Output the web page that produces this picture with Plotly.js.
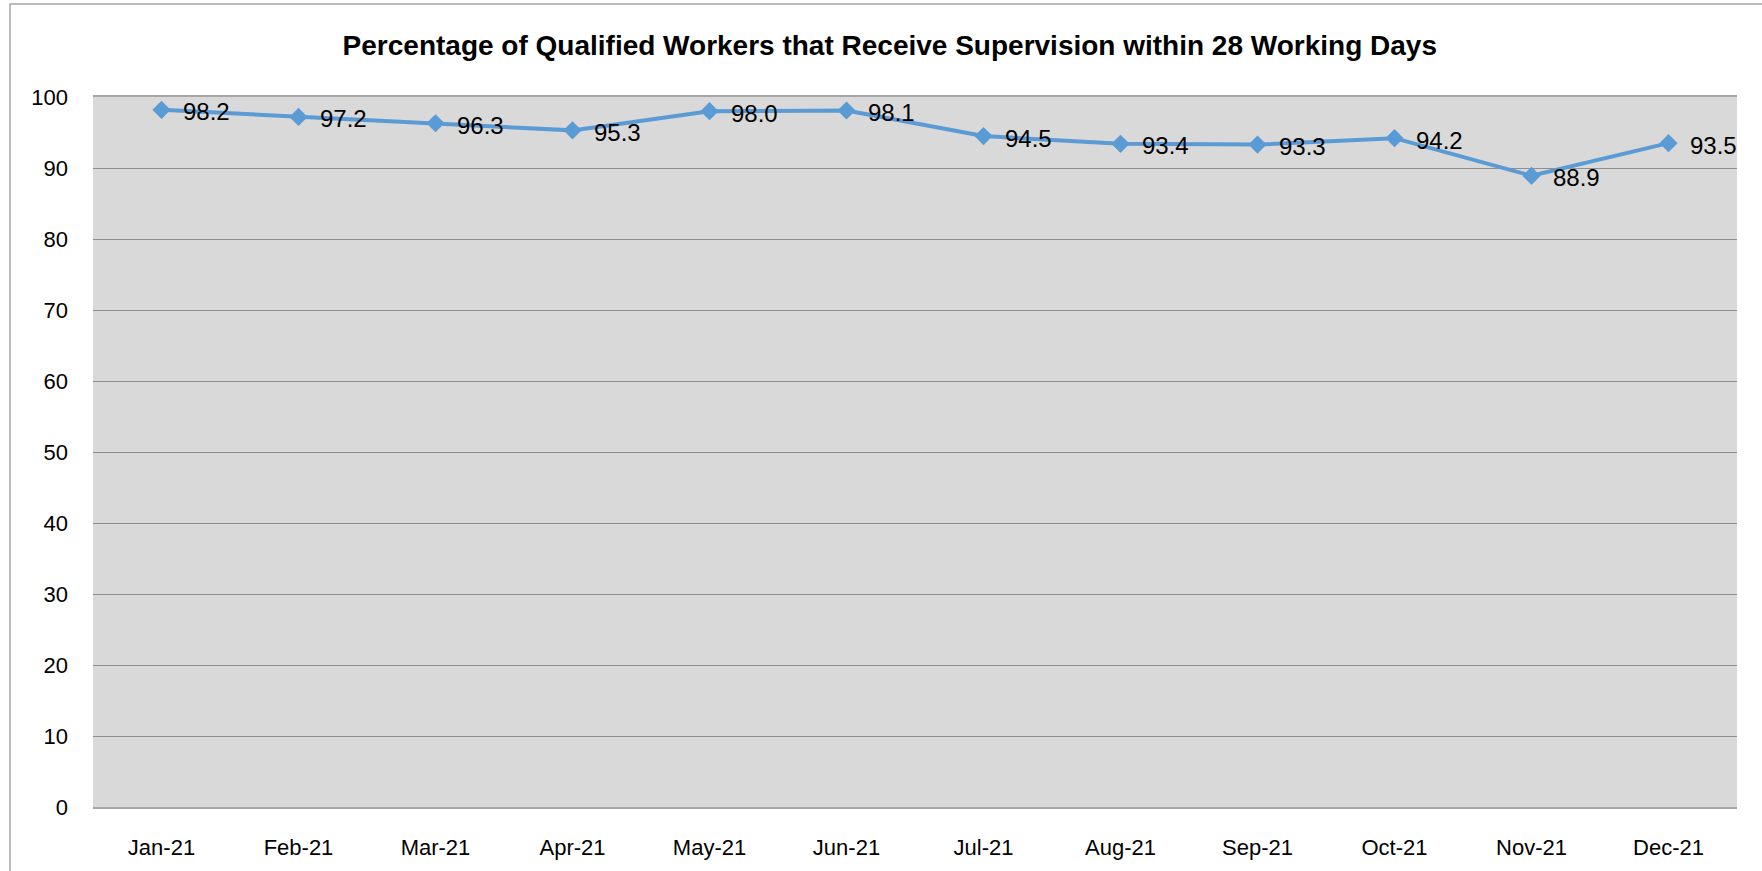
<!DOCTYPE html>
<html>
<head>
<meta charset="utf-8">
<script src="https://cdn.plot.ly/plotly-3.0.1.min.js"></script>
<style>html,body{margin:0;padding:0;background:#fff;}#chart{width:1762px;height:871px;}</style>
</head>
<body>
<div id="chart"></div>
<script>
const months = ["Jan-21","Feb-21","Mar-21","Apr-21","May-21","Jun-21","Jul-21","Aug-21","Sep-21","Oct-21","Nov-21","Dec-21"];
const percentages = [98.2, 97.2, 96.3, 95.3, 98.0, 98.1, 94.5, 93.4, 93.3, 94.2, 88.9, 93.5];
const yTicks = [0,10,20,30,40,50,60,70,80,90,100];
const chartTitle = "Percentage of Qualified Workers that Receive Supervision within 28 Working Days";

const FONT = 'Liberation Sans, Arial, sans-serif';

const trace = {
  x: months,
  y: percentages,
  type: 'scatter',
  mode: 'lines+markers',
  line: {color: '#5B9BD5', width: 4},
  marker: {symbol: 'diamond', size: 14, color: '#5B9BD5'},
  cliponaxis: false,
  hoverinfo: 'x+y'
};

const labels = months.map((m, i) => ({
  x: m, y: percentages[i], xref: 'x', yref: 'y',
  text: percentages[i].toFixed(1),
  showarrow: false,
  xanchor: 'left', yanchor: 'middle',
  xshift: 19, yshift: -2,
  font: {family: FONT, size: 24, color: '#000'}
}));

const layout = {
  width: 1762, height: 871,
  margin: {l: 93, r: 25, t: 97, b: 64},
  paper_bgcolor: '#ffffff',
  plot_bgcolor: '#D9D9D9',
  showlegend: false,
  font: {family: FONT, color: '#000'},
  title: {
    text: '<b>' + chartTitle + '</b>',
    font: {family: FONT, size: 28, color: '#000'},
    x: 0.505, xref: 'container', xanchor: 'center',
    y: 0.948, yref: 'container', yanchor: 'middle'
  },
  xaxis: {
    type: 'category',
    range: [-0.5, 11.5],
    showgrid: false,
    showline: true, mirror: true,
    linecolor: '#A6A6A6', linewidth: 2,
    ticks: '',
    ticklabelstandoff: 20,
    tickfont: {size: 22, family: FONT},
    fixedrange: true
  },
  yaxis: {
    range: [0, 100],
    tickvals: yTicks,
    ticktext: yTicks.map(String),
    showgrid: true, gridcolor: '#8E8E8E', gridwidth: 1,
    zeroline: false,
    showline: false,
    ticks: '',
    ticklabelstandoff: 24,
    tickfont: {size: 22, family: FONT},
    fixedrange: true
  },
  annotations: labels,
  shapes: [{
    type: 'rect', xref: 'paper', yref: 'paper',
    x0: (10 - 93) / 1644, x1: 1.2,
    y0: -0.3, y1: (807 - 4) / 710,
    line: {color: '#A6A6A6', width: 1.5},
    fillcolor: 'rgba(0,0,0,0)',
    layer: 'below'
  }]
};

Plotly.newPlot('chart', [trace], layout, {displayModeBar: false, staticPlot: true});
</script>
</body>
</html>
